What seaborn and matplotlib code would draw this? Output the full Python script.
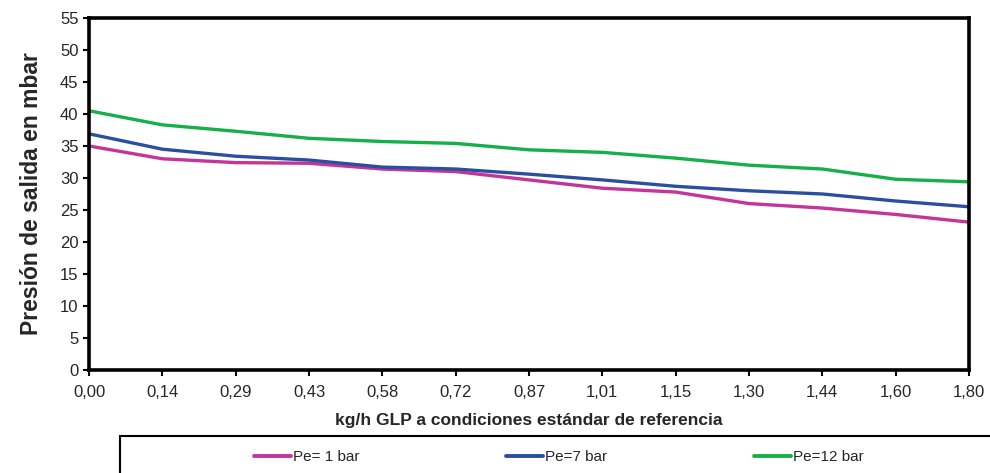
import numpy as np
import pandas as pd
import seaborn as sns
from matplotlib import pyplot as plt
from matplotlib.patches import Rectangle

# caudal (kg/h GLP) - categorias del eje x
caudal = ['0,00', '0,14', '0,29', '0,43', '0,58', '0,72', '0,87',
          '1,01', '1,15', '1,30', '1,44', '1,60', '1,80']
# presion de salida en mbar para cada presion de entrada
pe_1 = [35.0, 33.0, 32.4, 32.3, 31.4, 31.0, 29.7, 28.4, 27.8, 26.0, 25.3, 24.3, 23.1]
pe_7 = [36.9, 34.5, 33.4, 32.8, 31.7, 31.4, 30.6, 29.7, 28.7, 28.0, 27.5, 26.4, 25.5]
pe_12 = [40.5, 38.3, 37.3, 36.2, 35.7, 35.4, 34.4, 34.0, 33.1, 32.0, 31.4, 29.8, 29.4]
series = ['Pe= 1 bar', 'Pe=7 bar', 'Pe=12 bar']
colores = ['#c4359a', '#2a4fa0', '#14b04a']

df = pd.DataFrame({'pos': list(range(len(caudal))) * 3,
                   'presion': pe_1 + pe_7 + pe_12,
                   'serie': np.repeat(series, len(caudal))})

sns.set_style('ticks')
plt.rcParams['font.family'] = ['Liberation Sans', 'DejaVu Sans']

fig = plt.figure(figsize=(9.9, 4.73), dpi=100)
ax = fig.add_axes([0.0899, 0.2178, 0.8889, 0.7442])
sns.lineplot(data=df, x='pos', y='presion', hue='serie', palette=colores,
             linewidth=2.4, ax=ax, legend=False)

ax.set_xlim(0, len(caudal) - 1)
ax.set_ylim(0, 55)
ax.set_xticks(range(len(caudal)))
ax.set_xticklabels(caudal)
ax.set_yticks(range(0, 56, 5))
ax.tick_params(axis='both', labelsize=12, length=4, width=1.5, direction='out', color='black')
ax.tick_params(axis='x', pad=7)
for s in ax.spines.values():
    s.set_linewidth(2.6)
    s.set_color('black')
ax.set_xlabel('kg/h GLP a condiciones estándar de referencia', fontsize=12.5,
              fontweight='bold', labelpad=9)
ax.set_ylabel('Presión de salida en mbar', fontsize=16.5, fontweight='bold', labelpad=12)

# caja de leyenda (recortada por el borde de la figura)
caja = Rectangle((120 / 990, -0.2), 1.0, 0.2 + (473 - 436) / 473, transform=fig.transFigure,
                 fill=False, edgecolor='black', linewidth=1.5, clip_on=False)
fig.add_artist(caja)
handles = [plt.Line2D([], [], color=c, linewidth=2.8) for c in colores]
fig.legend(handles, series, loc='center left', bbox_to_anchor=(254 / 990, 1 - 457 / 473),
           ncol=3, frameon=False, fontsize=11, handlelength=2.4, handletextpad=0.15,
           columnspacing=9.6, borderaxespad=0, borderpad=0)

fig.savefig('out.png', dpi=100)
